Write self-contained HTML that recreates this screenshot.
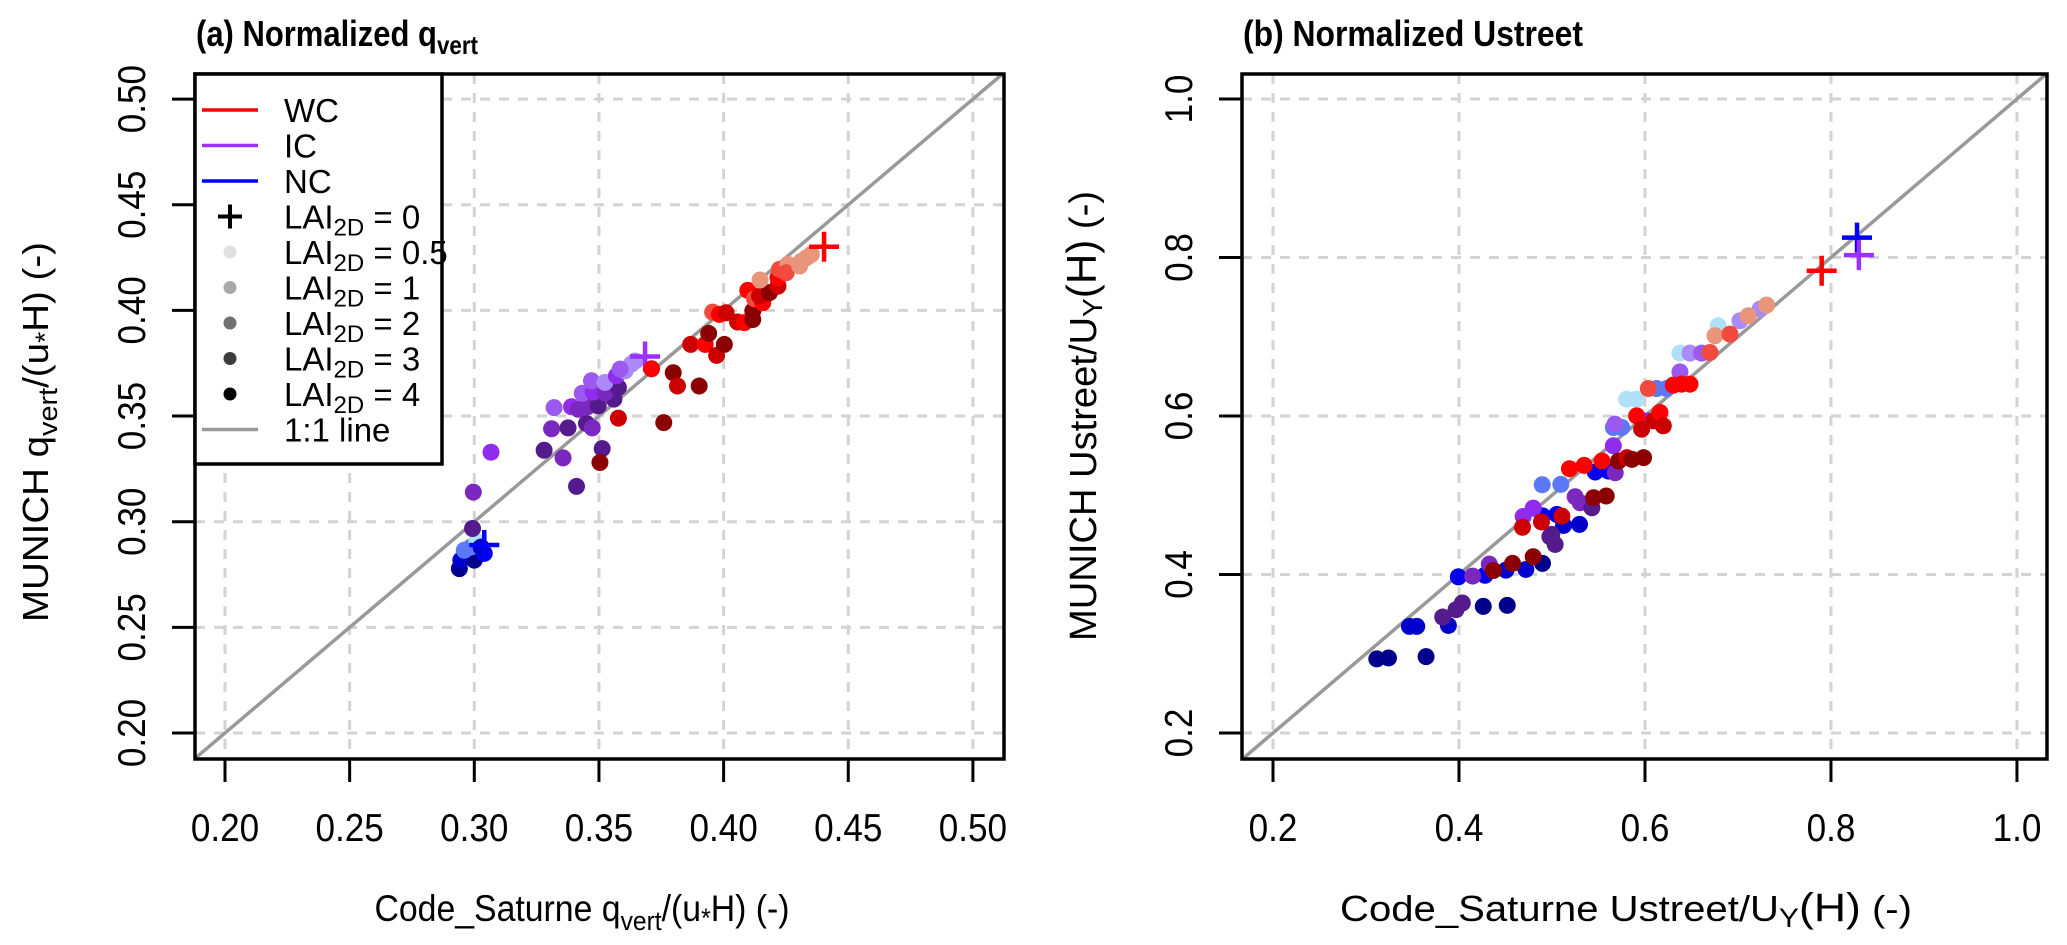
<!DOCTYPE html>
<html><head><meta charset="utf-8"><style>
html,body{margin:0;padding:0;background:#fff;}
svg{display:block;font-family:"Liberation Sans",Arial,sans-serif;}
</style></head><body>
<svg id="chart" width="2067" height="945" viewBox="0 0 2067 945" xmlns="http://www.w3.org/2000/svg">
<text x="196" y="46" font-size="36" font-weight="bold" textLength="282" lengthAdjust="spacingAndGlyphs">(a) Normalized q<tspan font-size="26" dy="8">vert</tspan></text>
<text x="1243" y="46" font-size="36" font-weight="bold" textLength="340" lengthAdjust="spacingAndGlyphs">(b) Normalized Ustreet</text>
<text x="582" y="921" font-size="37" text-anchor="middle" textLength="415" lengthAdjust="spacingAndGlyphs">Code_Saturne q<tspan font-size="27" dy="9">vert</tspan><tspan dy="-9">/(u</tspan><tspan font-size="27" dy="6">*</tspan><tspan dy="-6">H) (-)</tspan></text>
<text x="1626" y="921" font-size="36" text-anchor="middle" textLength="572" lengthAdjust="spacingAndGlyphs">Code_Saturne Ustreet/U<tspan font-size="27" dy="6">Y</tspan><tspan dy="-6" font-size="40">(H)</tspan> (-)</text>
<text transform="translate(48,432) rotate(-90)" font-size="36" text-anchor="middle" textLength="380" lengthAdjust="spacingAndGlyphs">MUNICH q<tspan font-size="27" dy="9">vert</tspan><tspan dy="-9">/(u</tspan><tspan font-size="27" dy="6">*</tspan><tspan dy="-6">H) (-)</tspan></text>
<text transform="translate(1096,416) rotate(-90)" font-size="38" text-anchor="middle" textLength="450" lengthAdjust="spacingAndGlyphs">MUNICH Ustreet/U<tspan font-size="28" dy="6">Y</tspan><tspan dy="-6" font-size="42">(H)</tspan> (-)</text>
</svg>
<script>
// Panel (a) data: normalized q_vert
const qvTicks = [0.20, 0.25, 0.30, 0.35, 0.40, 0.45, 0.50];
const qvTickLabels = ["0.20","0.25","0.30","0.35","0.40","0.45","0.50"];
const qvNCx = [0.294,0.2946,0.297,0.300,0.304,0.2987,0.301,0.3027,0.296,0.304];
const qvNCy = [0.2778,0.2818,0.285,0.2818,0.285,0.288,0.2905,0.288,0.2865,0.289];
const qvNClai = [4,3,2,4,2,1,0.5,3,1,0];
const qvICx = [0.2993,0.2996,0.3067,0.328,0.3356,0.341,0.331,0.3376,0.345,0.3473,0.3513,0.332,0.339,0.3417,0.3454,0.3497,0.356,0.3433,0.3477,0.3524,0.3578,0.347,0.3524,0.357,0.3605,0.363,0.3585,0.3645,0.3685];
const qvICy = [0.2968,0.314,0.3329,0.3338,0.3302,0.3167,0.344,0.3444,0.3465,0.3444,0.3346,0.354,0.3544,0.3532,0.3544,0.3548,0.358,0.3608,0.3614,0.361,0.3635,0.3667,0.3659,0.369,0.3714,0.3746,0.3722,0.376,0.3782];
const qvIClai = [4,3,2,4,3,4,3,4,4,3,4,1,2,3,3,4,4,1,2,3,4,1,0.5,2,0.5,0.5,1,0.5,0];
const qvWCx = [0.3711,0.3798,0.3815,0.3902,0.376,0.3578,0.3504,0.3868,0.3926,0.394,0.3972,0.4003,0.3956,0.3983,0.401,0.4056,0.4083,0.4117,0.4117,0.4097,0.4124,0.4157,0.4144,0.4184,0.4218,0.4218,0.4146,0.4224,0.4258,0.4251,0.4305,0.4312,0.4352,0.4332,0.4403];
const qvWCy = [0.3724,0.3705,0.3642,0.3642,0.3469,0.349,0.328,0.3839,0.3839,0.3891,0.3787,0.3839,0.3992,0.3981,0.3989,0.3945,0.3942,0.3957,0.3997,0.4095,0.4055,0.4036,0.4068,0.4084,0.4115,0.4155,0.4144,0.4194,0.4218,0.4178,0.421,0.4233,0.4265,0.4249,0.4301];
const qvWClai = [2,4,3,4,4,3,4,3,2,4,3,4,1,2,3,3,2,4,4,2,1,2,3,4,3,2,0.5,1,0.5,1,0.5,0.5,0.5,0.5,0];
// Panel (b) data: normalized Ustreet
const usTicks = [0.2, 0.4, 0.6, 0.8, 1.0];
const usTickLabels = ["0.2","0.4","0.6","0.8","1.0"];
const usNCx = [0.3116,0.3242,0.3646,0.3467,0.3546,0.3886,0.4261,0.4519,0.3993,0.428,0.4505,0.4719,0.4898,0.4898,0.4895,0.5052,0.5124,0.5296,0.5095,0.5465,0.5608,0.566,0.575,0.5803,0.591,0.6125,0.6233,0.6376,0.6788,0.828];
const usNCy = [0.2935,0.2947,0.2964,0.3345,0.3345,0.3357,0.3598,0.3611,0.397,0.399,0.4055,0.4064,0.414,0.474,0.5133,0.4758,0.4619,0.4632,0.5137,0.5293,0.5305,0.5855,0.5855,0.6212,0.6212,0.6347,0.6347,0.6793,0.7138,0.825];
const usNClai = [4,4,4,3,3,3,4,4,2,2,3,3,4,2,1,2,3,3,1,2,2,1,1,0.5,0.5,1,1,0.5,0.5,0];
const usICx = [0.3825,0.3968,0.4036,0.4147,0.4326,0.4977,0.469,0.4798,0.4998,0.5034,0.5249,0.5303,0.5429,0.568,0.566,0.5677,0.6018,0.6376,0.6484,0.6609,0.7021,0.7236,0.830];
const usICy = [0.3463,0.3556,0.364,0.398,0.4131,0.4478,0.4732,0.4837,0.4506,0.4379,0.4981,0.4905,0.4842,0.5284,0.5624,0.5897,0.5939,0.6557,0.6793,0.6793,0.7201,0.7348,0.803];
const usIClai = [4,4,4,3,3,4,2,2,4,4,3,3,4,3,2,1,2,1,0.5,1,0.5,0.5,0];
const usWCx = [0.437,0.4576,0.4798,0.4683,0.4887,0.5106,0.5188,0.5346,0.5447,0.5583,0.5537,0.5716,0.5806,0.586,0.5985,0.591,0.5964,0.609,0.6161,0.6197,0.6036,0.6305,0.6394,0.6484,0.6699,0.6753,0.6914,0.711,0.7308,0.79];
const usWCy = [0.405,0.414,0.4224,0.4596,0.4663,0.4737,0.5335,0.5377,0.4969,0.499,0.5432,0.5432,0.5474,0.5453,0.5474,0.6002,0.5834,0.5939,0.6044,0.5876,0.6347,0.6389,0.6402,0.6402,0.6801,0.7012,0.7033,0.7264,0.7399,0.7832];
const usWClai = [4,4,4,3,3,3,2,2,4,4,2,4,3,4,4,2,3,3,2,3,1,2,2,2,1,0.5,1,0.5,0.5,0];

const palette = {
  WC: {0:'#ff0000',0.5:'#e9957b',1:'#f24a3c',2:'#ff0000',3:'#cc0000',4:'#8b0000'},
  IC: {0:'#9b30ff',0.5:'#a98af7',1:'#9b59f0',2:'#912cee',3:'#7a28c0',4:'#551a8b'},
  NC: {0:'#0000ff',0.5:'#b0e0f8',1:'#5b79f7',2:'#0000ee',3:'#0000cd',4:'#00008b'}
};
const NS='http://www.w3.org/2000/svg';
const svg=document.getElementById('chart');
function mk(tag,attrs,parent){const e=document.createElementNS(NS,tag);for(const k in attrs)e.setAttribute(k,attrs[k]);(parent||svg).appendChild(e);return e;}

function panel(id,px0,px1,py0,py1,xd0,xd1,yd0,yd1,ticks,labels,series){
  const sx=v=>px0+(v-xd0)/(xd1-xd0)*(px1-px0);
  const sy=v=>py1-(v-yd0)/(yd1-yd0)*(py1-py0);
  const g=mk('g',{});
  
  
  ticks.forEach((t,i)=>{
    const gv=mk('line',{x1:sx(t),x2:sx(t),y1:py0,y2:py1,stroke:'#d3d3d3','stroke-width':3,'stroke-dasharray':'10 9'},g);
    
    
    const gh=mk('line',{x1:px0,x2:px1,y1:sy(t),y2:sy(t),stroke:'#d3d3d3','stroke-width':3,'stroke-dasharray':'10 9'},g);
    
    
    const tx=mk('line',{x1:sx(t),x2:sx(t),y1:py1,y2:py1+23,stroke:'#000','stroke-width':3},g);
    
    
    const ty=mk('line',{x1:px0-23,x2:px0,y1:sy(t),y2:sy(t),stroke:'#000','stroke-width':3},g);
    
    
    const lx=mk('text',{transform:`translate(${sx(t)},${py1+82}) scale(0.9,1)`,'font-size':39,'text-anchor':'middle'},g);
    lx.textContent=labels[i];
    
    
    const ly=mk('text',{transform:`translate(${px0-50},${sy(t)}) rotate(-90) scale(0.9,1)`,'font-size':39,'text-anchor':'middle'},g);
    ly.textContent=labels[i];
    
    
  });
  const lo=Math.max(xd0,yd0),hi=Math.min(xd1,yd1);
  const one=mk('line',{x1:sx(lo),y1:sy(lo),x2:sx(hi),y2:sy(hi),stroke:'#999','stroke-width':3.5},g);
  
  
  series.forEach(s=>{
    for(let i=0;i<s.x.length;i++){
      const col=palette[s.name][s.lai[i]];
      const X=sx(s.x[i]),Y=sy(s.y[i]);
      if(s.lai[i]===0){
        const c=mk('path',{d:`M${X-15},${Y}H${X+15}M${X},${Y-15}V${Y+15}`,stroke:col,'stroke-width':4.5,fill:'none'},g);
        
        
      } else {
        const c=mk('circle',{cx:X,cy:Y,r:8.5,fill:col},g);
        
        
      }
    }
  });
  const box=mk('rect',{x:px0,y:py0,width:px1-px0,height:py1-py0,fill:'none',stroke:'#000','stroke-width':3.5},g);
  
  
}

panel('panel-a',195,1004,74,759,0.18797,0.51247,0.18770,0.51188,qvTicks,qvTickLabels,[
  {name:'NC',x:qvNCx,y:qvNCy,lai:qvNClai},
  {name:'IC',x:qvICx,y:qvICy,lai:qvIClai},
  {name:'WC',x:qvWCx,y:qvWCy,lai:qvWClai}]);
panel('panel-b',1242,2047,74,759,0.16667,1.0323,0.1672,1.0315,usTicks,usTickLabels,[
  {name:'NC',x:usNCx,y:usNCy,lai:usNClai},
  {name:'IC',x:usICx,y:usICy,lai:usIClai},
  {name:'WC',x:usWCx,y:usWCy,lai:usWClai}]);

// Legend
const lg=mk('g',{});


const lbox=mk('rect',{x:195,y:74,width:247,height:390,fill:'#fff',stroke:'#000','stroke-width':3.5},lg);


const legItems=[
 {t:'WC',type:'line',c:'#ff0000'},{t:'IC',type:'line',c:'#9b30ff'},{t:'NC',type:'line',c:'#0000ff'},
 {t:'0',type:'cross',c:'#000'},{t:'0.5',type:'dot',c:'#e0e0e0'},{t:'1',type:'dot',c:'#a8a8a8'},
 {t:'2',type:'dot',c:'#707070'},{t:'3',type:'dot',c:'#3c3c3c'},{t:'4',type:'dot',c:'#000'},
 {t:'1:1 line',type:'line',c:'#999'}];
legItems.forEach((it,i)=>{
  const y=110+i*35.5;
  if(it.type==='line'){const l=mk('line',{x1:202,x2:258,y1:y,y2:y,stroke:it.c,'stroke-width':3.5},lg);
    }
  else if(it.type==='cross'){const c=mk('path',{d:`M${218},${y}H${242}M230,${y-12}V${y+12}`,stroke:'#000','stroke-width':4},lg);
    }
  else {const c=mk('circle',{cx:230,cy:y,r:6.5,fill:it.c},lg);
    }
  const tx=mk('text',{x:284,y:y+12,'font-size':33},lg);
  if(it.type==='line'){tx.textContent=it.t;}
  else{tx.textContent='LAI';const s=mk('tspan',{'font-size':24,dy:7},tx);s.textContent='2D';const r=mk('tspan',{dy:-7},tx);r.textContent=' = '+it.t;}
  
  
});
</script>
</body></html>
